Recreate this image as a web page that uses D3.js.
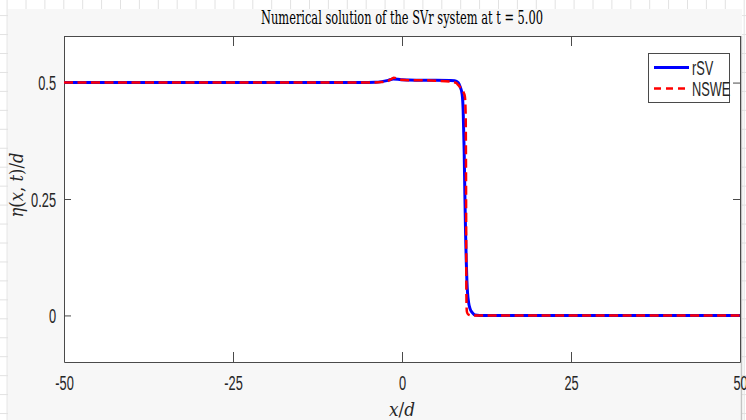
<!DOCTYPE html>
<html>
<head>
<meta charset="utf-8">
<script src="https://cdn.jsdelivr.net/npm/d3@7"></script>
<style>
  body { margin: 0; background: #fff; }
  svg { display: block; }
</style>
</head>
<body>
<div id="graph"></div>
<script>
// values (x/d, eta/d)
const rsvX = [-50, -20, -6, -4, -3, -2, -1.3, -0.6, 0, 1, 3, 5, 7, 7.8, 8.3, 8.6, 8.9, 9.05, 9.2, 9.3, 9.4, 9.5, 9.6, 9.7, 9.85, 10.05, 10.4, 10.8, 11.5, 20, 50];
const rsvY = [0.5, 0.5, 0.5, 0.5005, 0.502, 0.505, 0.5075, 0.507, 0.506, 0.5055, 0.505, 0.505, 0.5045, 0.504, 0.5, 0.491, 0.475, 0.44, 0.35, 0.26, 0.18, 0.12, 0.075, 0.048, 0.028, 0.015, 0.006, 0.001, 0, 0, 0];
const nsweX = [-50, -20, -6, -4, -3, -2, -1.5, -1.2, -0.8, -0.3, 1, 3, 5, 7.1, 8, 8.3, 8.6, 9.0, 9.3, 9.42, 9.47, 9.5, 9.52, 9.55, 9.6, 9.8, 10.3, 12, 50];
const nsweY = [0.5, 0.5, 0.5, 0.5, 0.501, 0.504, 0.508, 0.5105, 0.509, 0.506, 0.505, 0.505, 0.504, 0.502, 0.4995, 0.495, 0.49, 0.482, 0.47, 0.43, 0.3, 0.15, 0.06, 0.02, 0.008, 0.002, 0, 0, 0];
const xTicks = [-50, -25, 0, 25, 50];
const yTicks = [0, 0.25, 0.5];
const seriesNames = ["rSV", "NSWE"];

const width = 746, height = 420;
const axLeft = 64, axRight = 740, axTop = 36, axBottom = 362;

let svg = d3.select("#graph").append("svg")
    .attr("width", width)
    .attr("height", height);

// the grid paper behind the window
let paper = svg.append("g").attr("stroke", "#e2e2e2").attr("stroke-width", 1);
d3.range(7.1, width, 18.9).forEach(function(gx) {
    paper.append("line").attr("x1", gx).attr("x2", gx).attr("y1", 0).attr("y2", height);
});
d3.range(15.6, height, 18.95).forEach(function(gy) {
    paper.append("line").attr("x1", 0).attr("x2", width).attr("y1", gy).attr("y2", gy);
});

// figure background
svg.append("rect")
    .attr("x", 8).attr("y", 9)
    .attr("width", 734).attr("height", height - 9)
    .attr("fill", "#f7f7f7");
svg.append("line")
    .attr("x1", 741.5).attr("x2", 741.5).attr("y1", 36).attr("y2", height)
    .attr("stroke", "#c4c4c4").attr("stroke-width", 1.5);

// axes area
svg.append("rect")
    .attr("x", axLeft).attr("y", axTop)
    .attr("width", axRight - axLeft).attr("height", axBottom - axTop)
    .attr("fill", "#fff");

let x = d3.scaleLinear().domain([-50, 50]).range([axLeft, axRight]);
let y = d3.scaleLinear().domain([-0.1, 0.6]).range([axBottom, axTop]);

const axisColor = "#4a4a4a";
const sx = 0.64;
const tickFont = "20px";

function styleAxis(g) {
    g.select(".domain").attr("stroke", axisColor);
    g.selectAll(".tick line").attr("stroke", axisColor);
    g.selectAll("text")
        .attr("fill", "#262626")
        .attr("font-family", "Liberation Sans, Arial, sans-serif")
        .attr("font-size", tickFont);
}

let gxB = svg.append("g")
    .attr("transform", `translate(0,${axBottom})`)
    .call(d3.axisBottom(x).tickValues(xTicks).tickSizeInner(-10).tickSizeOuter(0).tickPadding(0)
        .tickFormat(function(d) { return String(d); }));
styleAxis(gxB);
gxB.selectAll("text").attr("y", 28.5).attr("dy", 0).attr("transform", `scale(${sx},1)`);

let gxT = svg.append("g")
    .attr("transform", `translate(0,${axTop})`)
    .call(d3.axisTop(x).tickValues(xTicks).tickSizeInner(-10).tickSizeOuter(0).tickFormat(""));
styleAxis(gxT);

let gyL = svg.append("g")
    .attr("transform", `translate(${axLeft},0)`)
    .call(d3.axisLeft(y).tickValues(yTicks).tickSizeInner(-7).tickSizeOuter(0)
        .tickFormat(function(d) { return String(d); }));
styleAxis(gyL);
gyL.selectAll("text").attr("x", -8 / sx).attr("dy", "0.36em").attr("transform", `scale(${sx},1)`);

let gyR = svg.append("g")
    .attr("transform", `translate(${axRight},0)`)
    .call(d3.axisRight(y).tickValues(yTicks).tickSizeInner(-7).tickSizeOuter(0).tickFormat(""));
styleAxis(gyR);

// curves
let line = d3.line()
    .x(function(d) { return x(d[0]); })
    .y(function(d) { return y(d[1]); })
    .curve(d3.curveMonotoneX);

svg.append("clipPath").attr("id", "plotclip")
    .append("rect").attr("x", axLeft).attr("y", axTop)
    .attr("width", axRight - axLeft).attr("height", axBottom - axTop);

let plot = svg.append("g").attr("clip-path", "url(#plotclip)");
plot.append("path")
    .datum(d3.zip(rsvX, rsvY))
    .attr("d", line)
    .attr("fill", "none")
    .attr("stroke", "#0000ff")
    .attr("stroke-width", 3);
plot.append("path")
    .datum(d3.zip(nsweX, nsweY))
    .attr("d", line)
    .attr("fill", "none")
    .attr("stroke", "#ff0000")
    .attr("stroke-width", 2.5)
    .attr("stroke-dasharray", "9,4.5");

// title
svg.append("text")
    .attr("x", (axLeft + axRight) / 2)
    .attr("y", 24)
    .attr("text-anchor", "middle")
    .attr("textLength", 282)
    .attr("lengthAdjust", "spacingAndGlyphs")
    .attr("font-family", "DejaVu Serif, Liberation Serif, serif")
    .attr("font-size", "18.5px")
    .attr("fill", "#000")
    .text("Numerical solution of the SVr system at t = 5.00");

// axis titles
let ylab = svg.append("text")
    .attr("transform", `translate(23,${185}) rotate(-90)`)
    .attr("text-anchor", "middle")
    .attr("textLength", 65)
    .attr("lengthAdjust", "spacingAndGlyphs")
    .attr("font-family", "DejaVu Serif, Liberation Serif, serif")
    .attr("font-size", "19px")
    .attr("fill", "#262626");
ylab.append("tspan").attr("font-style", "italic").text("η");
ylab.append("tspan").text("(");
ylab.append("tspan").attr("font-style", "italic").text("x");
ylab.append("tspan").text(", ");
ylab.append("tspan").attr("font-style", "italic").text("t");
ylab.append("tspan").text(")/");
ylab.append("tspan").attr("font-style", "italic").text("d");

let xlab = svg.append("text")
    .attr("x", 402)
    .attr("y", 416)
    .attr("text-anchor", "middle")
    .attr("textLength", 26)
    .attr("lengthAdjust", "spacingAndGlyphs")
    .attr("font-family", "DejaVu Serif, Liberation Serif, serif")
    .attr("font-size", "18px")
    .attr("fill", "#262626");
xlab.append("tspan").attr("font-style", "italic").text("x");
xlab.append("tspan").text("/");
xlab.append("tspan").attr("font-style", "italic").text("d");

// legend
let legend = svg.append("g");
legend.append("rect")
    .attr("x", 648.5).attr("y", 53.5)
    .attr("width", 81).attr("height", 49)
    .attr("fill", "#fff")
    .attr("stroke", "#4a4a4a")
    .attr("stroke-width", 1);
const legendStyles = [
    { color: "#0000ff", width: 3, dash: null },
    { color: "#ff0000", width: 2.5, dash: "7,5" }
];
seriesNames.forEach(function(name, i) {
    let ly = 67.5 + i * 21;
    legend.append("line")
        .attr("x1", 654).attr("x2", 689)
        .attr("y1", ly).attr("y2", ly)
        .attr("stroke", legendStyles[i].color)
        .attr("stroke-width", legendStyles[i].width)
        .attr("stroke-dasharray", legendStyles[i].dash);
    legend.append("text")
        .attr("transform", `translate(692,${ly + 7.5}) scale(${sx},1)`)
        .attr("font-family", "Liberation Sans, Arial, sans-serif")
        .attr("font-size", tickFont)
        .attr("fill", "#262626")
        .text(name);
});
</script>
</body>
</html>
